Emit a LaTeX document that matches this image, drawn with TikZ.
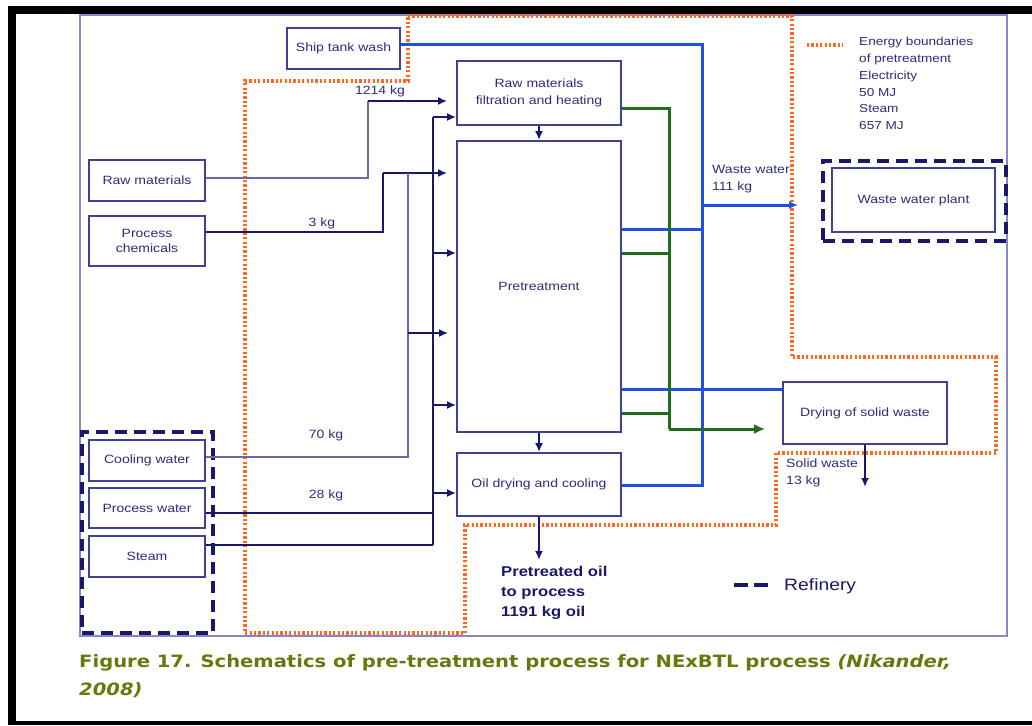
\documentclass[tikz,border=0pt]{standalone}
\usepackage{fontspec}
\setmainfont[FakeStretch=1.17]{Liberation Sans}
\newfontfamily\capfont[FakeStretch=1.15]{DejaVu Sans}
\usetikzlibrary{arrows.meta}
\definecolor{navy}{RGB}{25,25,105}
\definecolor{txt}{RGB}{45,45,125}
\definecolor{boxc}{RGB}{65,65,150}
\definecolor{framec}{RGB}{135,135,200}
\definecolor{feed}{RGB}{105,105,170}
\definecolor{wblue}{RGB}{30,80,225}
\definecolor{wgreen}{RGB}{30,110,30}
\definecolor{eorange}{RGB}{255,105,30}
\definecolor{olive}{RGB}{104,120,12}
\tikzset{
  box/.style={draw=boxc, line width=1.8pt, text=txt, font=\fontsize{12}{15}\selectfont, align=center, inner sep=0pt},
  lbl/.style={text=txt, font=\fontsize{12}{15}\selectfont, inner sep=0pt},
  feedline/.style={draw=feed, line width=1.7pt},
  navyline/.style={draw=navy, line width=1.7pt},
  inarrow/.style={draw=navy, line width=2.5pt, -{Latex[length=9pt,width=8pt]}},
  bluel/.style={draw=wblue, line width=3pt},
  greenl/.style={draw=wgreen, line width=3pt},
  boundary/.style={draw=eorange, line width=3.4pt, dash pattern=on 2.2pt off 2.2pt},
  refinery/.style={draw=navy, line width=4pt, dash pattern=on 12pt off 7pt}
}
\begin{document}
\begin{tikzpicture}[x=1pt,y=-1pt]
\useasboundingbox (0,0) rectangle (1032,725);
\fill[white] (0,0) rectangle (1032,725);
% outer black frame
\fill[black] (8,6) rectangle (1032,14);
\fill[black] (8,6) rectangle (16,725);
\fill[black] (8,721) rectangle (1032,725);
% diagram frame
\draw[framec, line width=2.5pt] (80,15) rectangle (1007,636);
% energy boundary
\draw[boundary] (408,16) -- (792,16) -- (792,357) -- (996,357) -- (996,453) -- (776,453) -- (776,525) -- (465,525) -- (465,633) -- (245,633) -- (245,81) -- (408,81) -- cycle;

% boxes
\node[box, minimum width=113pt, minimum height=41pt] (ship) at (343.5,48.5) {Ship tank wash};
\node[box, minimum width=164pt, minimum height=64pt, font=\fontsize{12}{17}\selectfont] (filt) at (539,93) {Raw materials\\filtration and heating};
\node[box, minimum width=164pt, minimum height=291pt] (pre) at (539,286.5) {Pretreatment};
\node[box, minimum width=164pt, minimum height=63pt] (oil) at (539,484.5) {Oil drying and cooling};
\node[box, minimum width=116pt, minimum height=41pt] (raw) at (147,180.5) {Raw materials};
\node[box, minimum width=116pt, minimum height=50pt] (chem) at (147,241) {Process\\chemicals};
\node[box, minimum width=116pt, minimum height=41pt] (cool) at (147,460.5) {Cooling water};
\node[box, minimum width=116pt, minimum height=40pt] (pw) at (147,508) {Process water};
\node[box, minimum width=116pt, minimum height=41pt] (steam) at (147,556.5) {Steam};
\node[refinery, minimum width=131pt, minimum height=201pt, inner sep=0pt] (refbox) at (147.5,532.5) {};
\node[refinery, minimum width=183pt, minimum height=80pt, inner sep=0pt] (wwpo) at (914.5,201) {};
\node[box, minimum width=163pt, minimum height=64pt] (wwp) at (913.5,200) {Waste water plant};
\node[box, minimum width=164pt, minimum height=62pt] (dry) at (865,413) {Drying of solid waste};

% junction coordinates
\coordinate (rl) at (368,178);
\coordinate (rj) at (368,101);
\coordinate (cl) at (383,232);
\coordinate (cj) at (383,173);
\coordinate (cwl) at (408,457);
\coordinate (cwj) at (408,173);
\coordinate (cwa) at (408,333);
\coordinate (bt) at (433,117);
\coordinate (b1) at (433,253);
\coordinate (b2) at (433,405);
\coordinate (b3) at (433,493);
\coordinate (pwl) at (433,513);
\coordinate (bb) at (433,545);

% inputs
\draw[feedline] (raw.east |- rl) -- (rl) -- (rj);
\draw[inarrow, shorten >=9pt] (rj) -- (filt.west |- rj);
\draw[navyline] (chem.east |- cl) -- (cl) -- (cj);
\draw[inarrow, shorten >=9pt] (cj) -- (pre.west |- cj);
\draw[feedline] (cool.east |- cwl) -- (cwl) -- (cwj);
\draw[inarrow, shorten >=8pt] (cwa) -- (pre.west |- cwa);
\draw[navyline] (bt) -- (bb);
\draw[navyline] (pw.east |- pwl) -- (pwl);
\draw[navyline] (steam.east |- bb) -- (bb);
\draw[inarrow] (bt) -- (filt.west |- bt);
\draw[inarrow] (b1) -- (pre.west |- b1);
\draw[inarrow] (b2) -- (pre.west |- b2);
\draw[inarrow] (b3) -- (oil.west |- b3);

% flow down
\draw[inarrow] (filt.south) -- (pre.north);
\draw[inarrow] (pre.south) -- (oil.north);
\coordinate (po) at (539,560);
\draw[inarrow] (oil.south) -- (po);

% waste water (blue)
\coordinate (wt) at (702,45);
\coordinate (wb) at (702,485);
\coordinate (wa) at (702,205);
\coordinate (p1) at (702,229);
\coordinate (p2) at (702,389);
\draw[bluel] (ship.east |- wt) -- (wt) -- (wb) -- (oil.east |- wb);
\draw[bluel] (pre.east |- p1) -- (p1);
\draw[bluel] (pre.east |- p2) -- (dry.west |- p2);
\draw[bluel, -{Latex[length=9pt,width=8pt]}, shorten >=23pt] (wa) -- (wwpo.west |- wa);

% green
\coordinate (gt) at (669,108);
\coordinate (gb) at (669,429);
\coordinate (g1) at (669,253);
\coordinate (g2) at (669,413);
\draw[greenl] (filt.east |- gt) -- (gt) -- (gb);
\draw[greenl, -{Latex[length=11pt,width=10pt]}, shorten >=17pt] (gb) -- (dry.west |- gb);
\draw[greenl] (pre.east |- g1) -- (g1);
\draw[greenl] (pre.east |- g2) -- (g2);

% solid waste
\coordinate (sw) at (865,487);
\draw[inarrow] (dry.south) -- (sw);

% labels
\node[lbl] (l1214) at (380,91) {1214 kg};
\node[lbl] (l3) at (322,223) {3 kg};
\node[lbl] (l70) at (326,435) {70 kg};
\node[lbl] (l28) at (326,495) {28 kg};
\node[lbl, anchor=north west, align=left, font=\fontsize{12}{17}\selectfont] (lww) at (712,165) {Waste water\\111 kg};
\node[lbl, anchor=north west, align=left, font=\fontsize{12}{17}\selectfont] (lsw) at (786,459) {Solid waste\\13 kg};
\node[lbl, anchor=north west, align=left, font=\fontsize{11.6}{16.8}\selectfont] (leg) at (859,37) {Energy boundaries\\of pretreatment\\Electricity\\50 MJ\\Steam\\657 MJ};
\coordinate (ld1) at (807,45);
\coordinate (ld2) at (843,45);
\draw[boundary] (ld1) -- (ld2);
\node[anchor=north west, align=left, text=navy, font=\fontsize{14.2}{20}\selectfont\bfseries, inner sep=0pt] (pout) at (501,566) {Pretreated oil\\to process\\1191 kg oil};
\coordinate (rd1) at (734,585);
\coordinate (rd2) at (768,585);
\draw[navy, line width=4.5pt, dash pattern=on 14pt off 6pt] (rd1) -- (rd2);
\node[anchor=west, text=navy, font=\fontsize{16.5}{20}\selectfont, inner sep=0pt] (lref) at (784,586) {Refinery};

% caption
\node[anchor=base west, text=olive, font=\capfont\bfseries\fontsize{17}{20}\selectfont, inner sep=0pt] (cap1) at (79,667) {Figure 17. Schematics of pre-treatment process for NExBTL process \textit{(Nikander,}};
\node[anchor=base west, text=olive, font=\capfont\bfseries\fontsize{17}{20}\selectfont, inner sep=0pt] (cap2) at (79,695) {\textit{2008)}};
\end{tikzpicture}
\end{document}
